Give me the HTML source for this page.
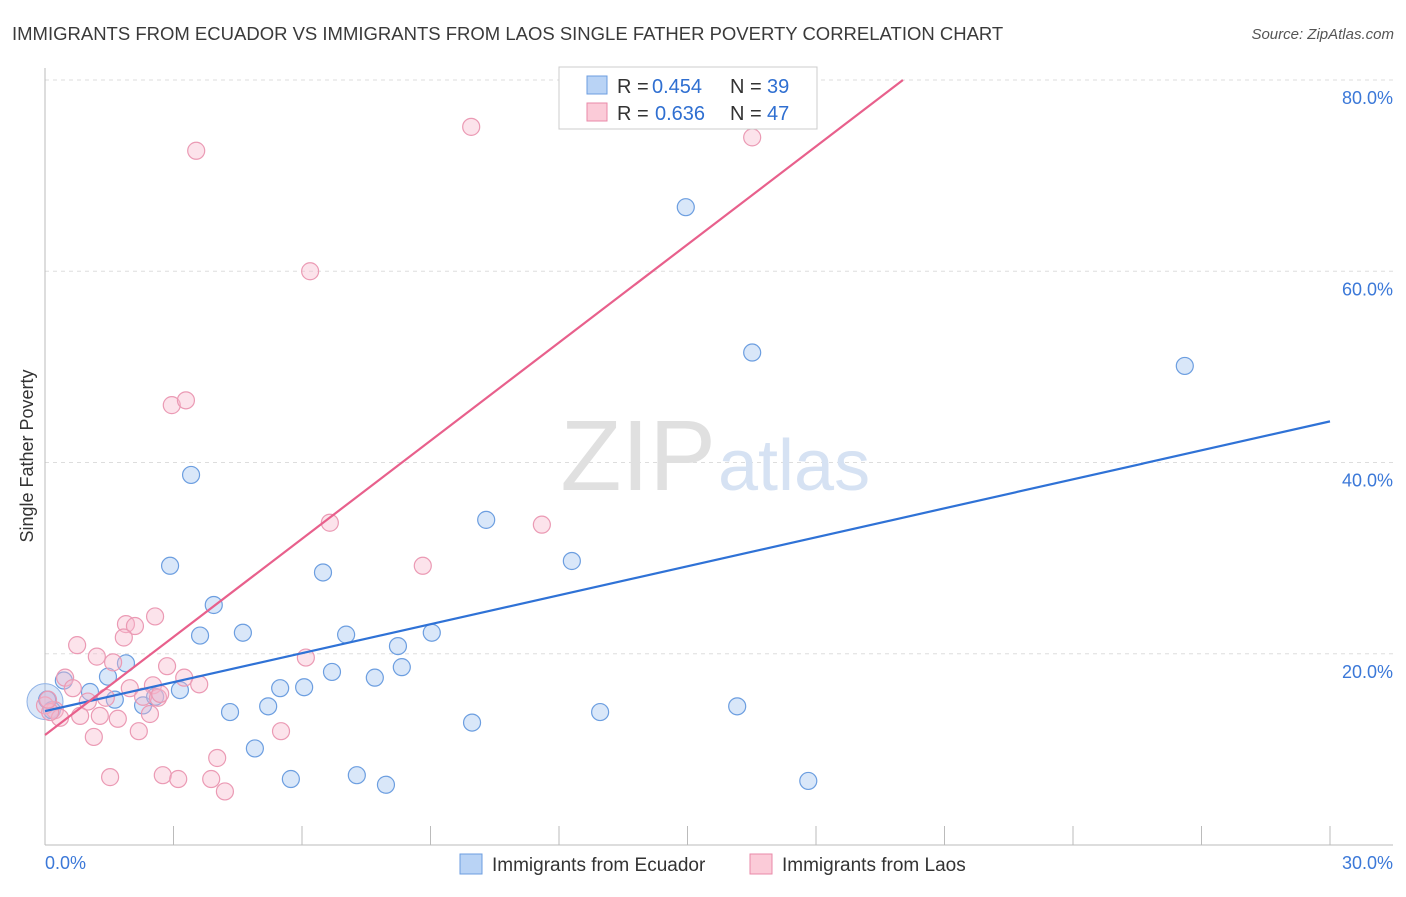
<!DOCTYPE html>
<html><head><meta charset="utf-8"><style>
body{margin:0;background:#fff;font-family:"Liberation Sans",sans-serif;}
svg text{font-family:"Liberation Sans",sans-serif;}
</style></head><body>
<svg id="c" width="1406" height="892" xmlns="http://www.w3.org/2000/svg">
<text x="12" y="40" font-size="18.5" fill="#3a3a3a">IMMIGRANTS FROM ECUADOR VS IMMIGRANTS FROM LAOS SINGLE FATHER POVERTY CORRELATION CHART</text>
<text x="1394" y="39" font-size="15" fill="#555" font-style="italic" text-anchor="end">Source: ZipAtlas.com</text>
<text x="33" y="456" font-size="18" fill="#333" text-anchor="middle" transform="rotate(-90 33 456)">Single Father Poverty</text>
<g id="grid"></g>
<text x="716" y="490" font-size="100" fill="#e0e0e0" text-anchor="end" font-family="Liberation Serif">ZIP</text>
<text x="718" y="490" font-size="72" fill="#d6e2f3">atlas</text>
<g id="pts"></g>
<g id="lines"></g>
<g>
<rect x="559" y="67" width="258" height="62" fill="#fff" stroke="#ccc"/>
<rect x="587" y="76" width="20" height="18" fill="#b9d3f5" stroke="#6c9ee0"/>
<text x="617" y="93" font-size="20" fill="#333">R =</text>
<text x="652" y="93" font-size="20" fill="#2f6fd1">0.454</text>
<text x="730" y="93" font-size="20" fill="#333">N =</text>
<text x="767" y="93" font-size="20" fill="#2f6fd1">39</text>
<rect x="587" y="103" width="20" height="18" fill="#fbcbd8" stroke="#e98aa8"/>
<text x="617" y="120" font-size="20" fill="#333">R =</text>
<text x="655" y="120" font-size="20" fill="#2f6fd1">0.636</text>
<text x="730" y="120" font-size="20" fill="#333">N =</text>
<text x="767" y="120" font-size="20" fill="#2f6fd1">47</text>
</g>
<g>
<rect x="460" y="854" width="22" height="20" fill="#b9d3f5" stroke="#6c9ee0"/>
<text x="492" y="871" font-size="19" fill="#333">Immigrants from Ecuador</text>
<rect x="750" y="854" width="22" height="20" fill="#fbcbd8" stroke="#e98aa8"/>
<text x="782" y="871" font-size="19" fill="#333">Immigrants from Laos</text>
</g>
</svg>
<script>
const yTicks=[20,40,60,80];
const yTickLabels=["20.0%","40.0%","60.0%","80.0%"];
const xEnds=["0.0%","30.0%"];
const blueX=[2.92,3.41,3.94,3.62,4.62,1.89,1.47,0.44,1.05,1.63,2.29,2.57,3.15,4.32,4.90,5.21,5.49,6.05,5.74,6.49,7.03,6.70,7.28,7.70,7.96,8.24,8.33,9.03,9.97,10.30,12.30,12.96,14.96,16.16,16.51,17.82,26.61,0.05,0.16];
const blueY=[29.2,38.7,25.1,21.9,22.2,19.0,17.6,17.2,16.0,15.2,14.6,15.5,16.2,13.9,10.1,14.5,16.4,16.5,6.9,28.5,22.0,18.1,7.3,17.5,6.3,20.8,18.6,22.2,12.8,34.0,29.7,13.9,66.7,14.5,51.5,6.7,50.1,15.2,14.1];
const pinkX=[3.53,6.19,9.95,16.51,2.96,3.29,6.65,8.82,11.60,2.57,1.89,2.10,1.84,0.75,1.21,1.59,2.85,0.47,0.65,1.98,2.52,3.25,3.60,6.09,2.29,2.64,1.00,0.23,0.35,0.82,1.28,1.70,2.45,2.19,1.14,5.51,4.02,1.52,2.75,3.11,3.88,4.20,0.0,0.12,1.42,2.69,0.07];
const pinkY=[72.6,60.0,75.1,74.0,46.0,46.5,33.7,29.2,33.5,23.9,23.1,22.9,21.7,20.9,19.7,19.1,18.7,17.5,16.4,16.4,16.7,17.5,16.8,19.6,15.5,15.4,15.0,14.1,13.3,13.5,13.5,13.2,13.7,11.9,11.3,11.9,9.1,7.1,7.3,6.9,6.9,5.6,14.6,13.9,15.4,15.8,15.2];
const blueTrend=[14.0,44.3];
const pinkTrend=[11.5,3.42];
const NS="http://www.w3.org/2000/svg";
const X=v=>45+v*1285/30, Y=v=>845-v*765/80;
function mk(t,a,p){const e=document.createElementNS(NS,t);for(const k in a)e.setAttribute(k,a[k]);p.appendChild(e);return e;}
const g=document.getElementById('grid');
yTicks.forEach((t,i)=>{
 const l=mk('line',{x1:45,x2:1393,y1:Y(t),y2:Y(t),stroke:'#ddd','stroke-dasharray':'4,4'},g);
 
 
 const tx=mk('text',{x:1393,y:Y(t)+24,'font-size':18,fill:'#3b78d8','text-anchor':'end'},g);tx.textContent=yTickLabels[i];
 
 
});
mk('line',{x1:45,x2:45,y1:68,y2:845,stroke:'#bbb'},g);
mk('line',{x1:45,x2:1393,y1:845,y2:845,stroke:'#bbb'},g);
for(let i=1;i<=10;i++){const t=mk('line',{x1:X(i*3),x2:X(i*3),y1:826,y2:845,stroke:'#bbb'},g);
 
 }
[[45,'start'],[1393,'end']].forEach((p,i)=>{const t=mk('text',{x:p[0],y:869,'font-size':18,fill:'#3b78d8','text-anchor':p[1]},g);t.textContent=xEnds[i];
 
 });
const pg=document.getElementById('pts');
const bigB=mk('circle',{cx:X(0),cy:Y(15.0),r:18,fill:'rgba(150,185,235,0.35)',stroke:'#8fb2e6'},pg);


blueX.forEach((x,i)=>{const c=mk('circle',{cx:X(x),cy:Y(blueY[i]),r:8.5,fill:'rgba(160,195,240,0.4)',stroke:'#6c9ee0','stroke-width':1.2},pg);
 
 });
pinkX.forEach((x,i)=>{const c=mk('circle',{cx:X(x),cy:Y(pinkY[i]),r:8.5,fill:'rgba(248,185,205,0.4)',stroke:'#eb9ab4','stroke-width':1.2},pg);
 
 });
const lg=document.getElementById('lines');
const bl=mk('line',{x1:X(0),y1:Y(blueTrend[0]),x2:X(30),y2:Y(blueTrend[1]),stroke:'#2f72d6','stroke-width':2.2},lg);


const xe=(80-pinkTrend[0])/pinkTrend[1];
const pl=mk('line',{x1:X(0),y1:Y(pinkTrend[0]),x2:X(xe),y2:Y(80),stroke:'#e8608c','stroke-width':2.2},lg);


</script>
</body></html>
